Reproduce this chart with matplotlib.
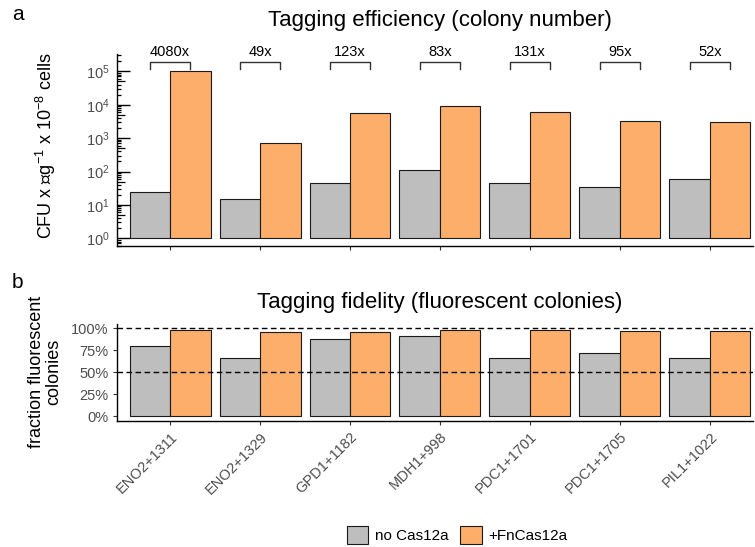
import numpy as np
import matplotlib
matplotlib.use("Agg")
import matplotlib.pyplot as plt
from matplotlib.patches import Patch
from matplotlib.ticker import FixedLocator, FuncFormatter, PercentFormatter

plt.rcParams['font.family'] = ['Liberation Sans', 'DejaVu Sans']
plt.rcParams['mathtext.fontset'] = 'custom'
plt.rcParams['mathtext.rm'] = 'Liberation Sans'
plt.rcParams['mathtext.it'] = 'Liberation Sans:italic'
plt.rcParams['mathtext.bf'] = 'Liberation Sans:bold'

# data
sites = ["ENO2+1311", "ENO2+1329", "GPD1+1182", "MDH1+998",
         "PDC1+1701", "PDC1+1705", "PIL1+1022"]
cfu_none = [24.5, 15, 45, 113, 45, 34.5, 60]
cfu_cas = [100000, 730, 5500, 9300, 5900, 3250, 3100]
fold = ["4080x", "49x", "123x", "83x", "131x", "95x", "52x"]
frac_none = [0.80, 0.665, 0.885, 0.91, 0.665, 0.715, 0.665]
frac_cas = [0.98, 0.96, 0.96, 0.985, 0.985, 0.975, 0.965]

gray = "#BEBEBE"
orange = "#FDAE6B"
tick_col = "#4D4D4D"
W, H = 755, 547

fig = plt.figure(figsize=(W / 100, H / 100), dpi=100)

def px_axes(l, t, r, b):
    return fig.add_axes([l / W, 1 - b / H, (r - l) / W, (b - t) / H])

ax1 = px_axes(117, 54, 753, 246)
ax2 = px_axes(117, 324, 753, 420.7)

x = np.arange(len(sites))
bw = 0.45

for ax in (ax1, ax2):
    for s in ("top", "right"):
        ax.spines[s].set_visible(False)
    for s in ("left", "bottom"):
        ax.spines[s].set_linewidth(1.0)
        ax.spines[s].set_color("black")
    ax.set_xlim(-0.589, 6.478)
    ax.set_xticks(x)
    ax.tick_params(axis="x", length=3, width=0.8, color="#333333",
                   labelsize=10.5, labelcolor=tick_col)
    ax.tick_params(axis="y", labelsize=10.5, labelcolor=tick_col)

# ---- panel a: colony number (log scale)
ax1.set_yscale("log")
ax1.set_ylim(10 ** -0.23, 10 ** 5.518)
ax1.bar(x - bw / 2, np.array(cfu_none) - 1, bw, bottom=1, color=gray,
        edgecolor="#1a1a1a", linewidth=0.8)
ax1.bar(x + bw / 2, np.array(cfu_cas) - 1, bw, bottom=1, color=orange,
        edgecolor="#1a1a1a", linewidth=0.8)
ax1.set_xticklabels([])

# log ticks: long at decades, short at 2-9, middle length at the 5s
ax1.yaxis.set_major_locator(FixedLocator([10.0 ** k for k in range(6)]))
ax1.yaxis.set_major_formatter(FuncFormatter(
    lambda v, p: r"$\mathdefault{10^{%d}}$" % round(np.log10(v))))
minor = [m * 10.0 ** k for k in range(-1, 6) for m in (2, 3, 4, 6, 7, 8, 9)]
ax1.yaxis.set_minor_locator(FixedLocator(minor))
ax1.tick_params(axis="y", which="major", direction="in", length=9,
                width=1.0, color="black", pad=5)
ax1.tick_params(axis="y", which="minor", direction="in", length=3.2,
                width=0.9, color="black")
lo, hi = ax1.get_ylim()
for k in range(-1, 6):
    v = 5 * 10.0 ** k
    if lo < v < hi:
        ax1.plot([0, 8 / 636], [v, v], color="black", lw=0.9,
                 transform=ax1.get_yaxis_transform(), clip_on=False,
                 solid_capstyle="butt", zorder=6)

# brackets with fold change
for i in range(len(sites)):
    y_top = 10 ** 5.278
    y_leg = 10 ** 5.07
    ax1.plot([i - bw / 2, i - bw / 2, i + bw / 2, i + bw / 2],
             [y_leg, y_top, y_top, y_leg], color="#333333", lw=1.0,
             clip_on=False)
    ax1.text(i, 10 ** 5.458, fold[i], ha="center", va="baseline",
             fontsize=10.5, color="black", clip_on=False)

# ---- panel b: fraction fluorescent
ax2.set_ylim(-0.05, 1.05)
ax2.bar(x - bw / 2, frac_none, bw, color=gray, edgecolor="#1a1a1a",
        linewidth=0.8)
ax2.bar(x + bw / 2, frac_cas, bw, color=orange, edgecolor="#1a1a1a",
        linewidth=0.8)
ax2.axhline(1.0, color="black", lw=1.0, ls=(0, (4, 2.5)), zorder=5)
ax2.axhline(0.5, color="black", lw=1.0, ls=(0, (4, 2.5)), zorder=5)
ax2.set_yticks([0, 0.25, 0.5, 0.75, 1.0])
ax2.yaxis.set_major_formatter(PercentFormatter(1.0, decimals=0))
ax2.tick_params(axis="y", length=3, width=0.8, color="#333333", pad=3)
ax2.set_xticklabels(sites, rotation=45, ha="right", va="top",
                    rotation_mode="anchor")

# titles, labels
fig.text(440 / W, 1 - 26 / H, "Tagging efficiency (colony number)",
         ha="center", va="baseline", fontsize=16)
fig.text(440 / W, 1 - 308 / H, "Tagging fidelity (fluorescent colonies)",
         ha="center", va="baseline", fontsize=16)
fig.text(12 / W, 1 - 19.5 / H, "a", ha="left", va="baseline", fontsize=15)
fig.text(12 / W, 1 - 288 / H, "b", ha="left", va="baseline", fontsize=15)
fig.text(46 / W, 1 - 146 / H,
         "CFU x \u221dg$^{\u22121}$ x 10$^{\u22128}$ cells",
         rotation=90, ha="center", va="center", fontsize=13)
fig.text(45 / W, 1 - 372 / H, "fraction fluorescent\ncolonies",
         rotation=90, ha="center", va="center", fontsize=13,
         multialignment="center", linespacing=1.0)

handles = [Patch(facecolor=gray, edgecolor="#1a1a1a", linewidth=0.8,
                 label="no Cas12a"),
           Patch(facecolor=orange, edgecolor="#1a1a1a", linewidth=0.8,
                 label="+FnCas12a")]
fig.legend(handles=handles, loc="center", bbox_to_anchor=(457 / W, 1 - 535 / H),
           ncol=2, frameon=False, fontsize=11, handlelength=1.4,
           handleheight=1.4, handletextpad=0.4, columnspacing=0.8)

fig.savefig("out.png", dpi=100)
